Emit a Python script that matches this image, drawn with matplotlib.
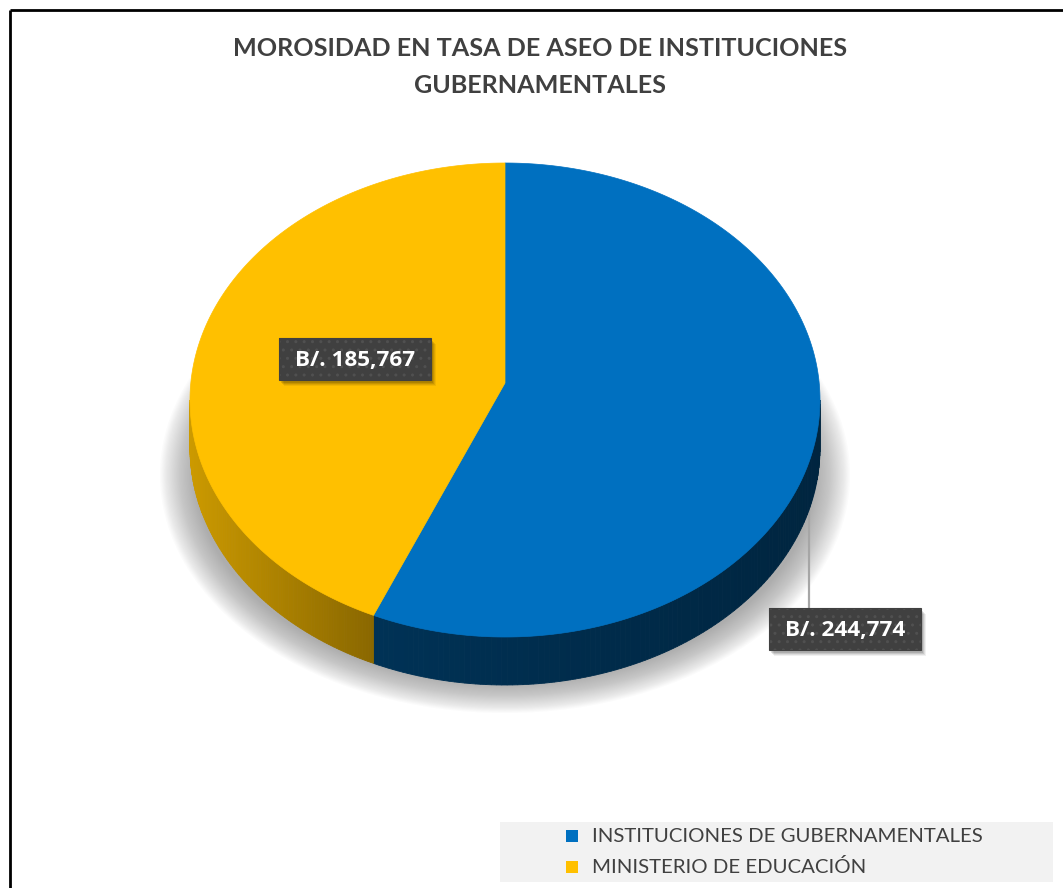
import numpy as np
import matplotlib.pyplot as plt
from matplotlib.patches import Polygon, Ellipse, Rectangle
from matplotlib.colors import to_rgb

plt.rcParams['font.family'] = ['Lato', 'DejaVu Sans']

# data
title = "MOROSIDAD EN TASA DE ASEO DE INSTITUCIONES\nGUBERNAMENTALES"
labels = ["INSTITUCIONES DE GUBERNAMENTALES", "MINISTERIO DE EDUCACIÓN"]
values = [244774, 185767]
colors = ["#0070C0", "#FFC000"]
value_text = ["B/. 244,774", "B/. 185,767"]

fig = plt.figure(figsize=(10.63, 8.88), dpi=100)
ax = fig.add_axes([0, 0, 1, 1])
ax.set_xlim(0, 1063)
ax.set_ylim(888, 0)
ax.axis('off')

# frame lines (top and left)
ax.plot([10, 1063], [10, 10], color='black', lw=2, solid_capstyle='butt')
ax.plot([10, 10], [10, 888], color='black', lw=2, solid_capstyle='butt')

ax.text(540, 67, title, ha='center', va='center', fontsize=18.1, fontweight='bold',
        color='#404040', linespacing=1.72)

# pie geometry (pixels)
cx, cy, rx, ry, depth = 505, 400, 315, 237, 48


def pt(t, dy=0.0):
    return cx + rx * np.sin(t), cy - ry * np.cos(t) + dy


# soft shadow
for i in range(30):
    k = i / 29
    ax.add_patch(Ellipse((505, 475), 2 * (345 - 35 * k), 2 * (238 - 30 * k),
                         fc='#7f7f7f', ec='none', alpha=0.027, zorder=1))

fr = np.array(values) / sum(values)
edges = np.concatenate([[0], np.cumsum(fr)]) * 2 * np.pi

# leader line for blue label
ax.plot([809, 809], [460, 607], color='#a6a6a6', lw=1.6, zorder=2)

# side walls
for i in range(len(values)):
    a0, a1 = max(edges[i], np.pi / 2), min(edges[i + 1], 1.5 * np.pi)
    if a1 <= a0:
        continue
    base = np.array(to_rgb(colors[i]))
    ts = np.linspace(a0, a1, 120)
    for j in range(len(ts) - 1):
        x0, y0 = pt(ts[j])
        x1, y1 = pt(ts[j + 1])
        xm = (x0 + x1) / 2
        if i == 0:
            f = 0.45 + (0.33 - 0.45) * (xm - 365) / (820 - 365)
        else:
            f = 0.80 + (0.55 - 0.80) * (xm - 190) / (365 - 190)
        ax.add_patch(Polygon([(x0, y0), (x1, y1), (x1, y1 + depth), (x0, y0 + depth)],
                             closed=True, fc=base * f, ec=base * f, lw=0.6, zorder=3))

# top faces
for i in range(len(values)):
    ts = np.linspace(edges[i], edges[i + 1], 300)
    xs, ys = pt(ts)
    verts = [(cx, cy - 17)] + list(zip(xs, ys))
    ax.add_patch(Polygon(verts, closed=True, fc=colors[i], ec=colors[i], lw=0.5, zorder=4))

# data labels
label_pos = [(845, 629), (355, 359)]
for (x, y), s in zip(label_pos, value_text):
    for d, a in [(7, 0.06), (6, 0.08), (5, 0.1), (4, 0.12)]:
        ax.add_patch(Rectangle((x - 76 + d - 2, y - 21 + d - 1), 152, 42, fc='#000000',
                               ec='none', alpha=a, zorder=5))
    ax.add_patch(Rectangle((x - 76, y - 21), 152, 42, fc='#404040', ec='#505050',
                           hatch='..', lw=0, zorder=6))
    ax.add_patch(Rectangle((x - 76, y - 21), 152, 42, fc='none', ec='#404040', lw=0.8, zorder=6))
    ax.text(x, y + 1, s, ha='center', va='center', fontsize=16.2, fontweight='bold',
            color='white', family=['Open Sans', 'DejaVu Sans'], zorder=7)

# legend
ax.add_patch(Rectangle((500, 822), 553, 60, fc='#F2F2F2', ec='none', zorder=1))
for k, (lab, c) in enumerate(zip(labels, colors)):
    yy = 836 + 31 * k
    ax.add_patch(Rectangle((566, yy - 6), 12, 12, fc=c, ec='none', zorder=2))
    ax.text(592, yy, lab, ha='left', va='center', fontsize=14.7, color='#404040', zorder=2)

fig.savefig('out.png', dpi=100)
